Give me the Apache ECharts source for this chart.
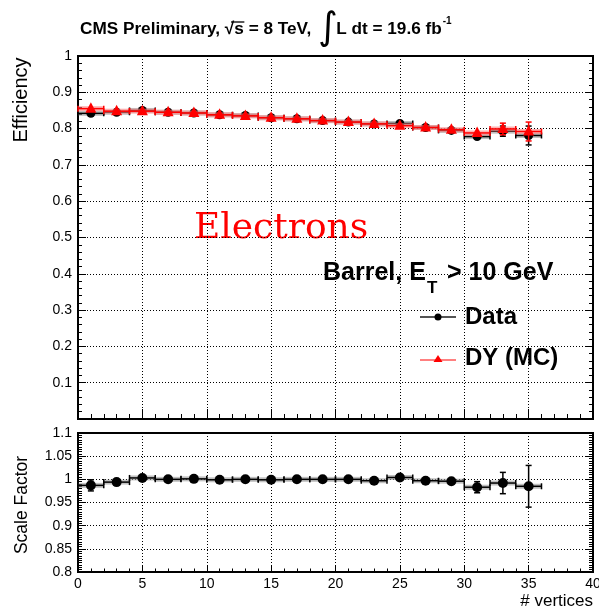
<!DOCTYPE html>
<html><head><meta charset="utf-8">
<script src="https://cdn.jsdelivr.net/npm/echarts@6.0.0/dist/echarts.min.js"></script>
<style>html,body{margin:0;padding:0;background:#fff}#c{width:599px;height:610px}</style>
</head><body><div id="c"></div>
<script>
// ---- data ----
const nVtx = [1,3,5,7,9,11,13,15,17,19,21,23,25,27,29,31,33,35];
const binHalfWidth = 1;
const effData    = [0.842,0.845,0.850,0.845,0.843,0.838,0.836,0.830,0.827,0.822,0.818,0.813,0.814,0.803,0.795,0.778,0.793,0.781];
const effDataErr = [0.003,0.002,0.002,0.002,0.002,0.002,0.002,0.002,0.002,0.002,0.002,0.002,0.002,0.003,0.003,0.005,0.014,0.026];
const effMC      = [0.855,0.848,0.848,0.845,0.843,0.838,0.835,0.830,0.827,0.822,0.818,0.813,0.808,0.803,0.797,0.788,0.799,0.792];
const effMCErr   = [0.004,0.003,0.002,0.002,0.002,0.002,0.002,0.002,0.002,0.002,0.002,0.002,0.002,0.003,0.003,0.005,0.016,0.026];
const scaleFactor    = [0.987,0.994,1.003,1.000,1.001,0.999,1.000,0.999,1.000,1.000,1.000,0.997,1.004,0.997,0.996,0.983,0.992,0.985];
const scaleFactorErr = [0.012,0.004,0.003,0.003,0.003,0.003,0.003,0.003,0.003,0.003,0.003,0.003,0.003,0.003,0.004,0.012,0.023,0.045];
const xTicks = [0,5,10,15,20,25,30,35,40];

// ---- rendering ----
const FONT = '"Liberation Sans", Arial, Helvetica, sans-serif';
function rows(vals, errs){ return nVtx.map((x,i)=>[x, vals[i], errs[i], binHalfWidth]); }

function errRenderer(color, bandColor, marker, msize){
  return function(params, api){
    const x = api.value(0), y = api.value(1), e = api.value(2), hw = api.value(3);
    const c = api.coord([x, y]);
    const pL = api.coord([x-hw, y]), pR = api.coord([x+hw, y]);
    const pT = api.coord([x, y+e]), pB = api.coord([x, y-e]);
    const ch = [];
    ch.push({type:'rect', shape:{x:pL[0], y:c[1]-2.5, width:pR[0]-pL[0], height:5}, style:{fill:bandColor}});
    const ls = {stroke:color, lineWidth:1.5};
    ch.push({type:'line', shape:{x1:pL[0], y1:c[1], x2:pR[0], y2:c[1]}, style:ls});
    ch.push({type:'line', shape:{x1:pL[0], y1:c[1]-3, x2:pL[0], y2:c[1]+3}, style:ls});
    ch.push({type:'line', shape:{x1:pR[0], y1:c[1]-3, x2:pR[0], y2:c[1]+3}, style:ls});
    if (pB[1]-pT[1] > 2*msize) {
      ch.push({type:'line', shape:{x1:c[0], y1:pT[1], x2:c[0], y2:pB[1]}, style:ls});
      ch.push({type:'line', shape:{x1:c[0]-3, y1:pT[1], x2:c[0]+3, y2:pT[1]}, style:ls});
      ch.push({type:'line', shape:{x1:c[0]-3, y1:pB[1], x2:c[0]+3, y2:pB[1]}, style:ls});
    }
    if (marker === 'circle') {
      ch.push({type:'circle', shape:{cx:c[0], cy:c[1], r:msize}, style:{fill:color}});
    } else {
      ch.push({type:'polygon', shape:{points:[[c[0],c[1]-msize-1],[c[0]-msize,c[1]+msize-1.5],[c[0]+msize,c[1]+msize-1.5]]}, style:{fill:color}});
    }
    return {type:'group', children:ch};
  };
}

const dotted = {show:true, lineStyle:{color:'#000', width:1, type:[1,2]}, showMinLine:false, showMaxLine:false};
function xAx(grid, labels, tickLen){
  return {type:'value', gridIndex:grid, min:0, max:40, interval:5,
    axisLine:{show:true, onZero:false, lineStyle:{color:'#000', width:2}},
    axisTick:{show:true, inside:true, length:tickLen, lineStyle:{color:'#000', width:1}},
    minorTick:{show:true, splitNumber:5, length:tickLen/2, lineStyle:{color:'#000', width:1}},
    axisLabel:{show:labels, color:'#000', fontSize:14, fontFamily:FONT, margin:5, formatter: v => String(v)},
    splitLine:dotted};
}
function yAx(grid, min, max, interval, minorSplit, right, fmt){
  return {type:'value', gridIndex:grid, min:min, max:max, interval:interval, position: right?'right':'left',
    axisLine:{show:true, onZero:false, lineStyle:{color:'#000', width:2}},
    axisTick:{show:true, inside:true, length:8, lineStyle:{color:'#000', width:1}},
    minorTick:{show:true, splitNumber:minorSplit, length:4, lineStyle:{color:'#000', width:1}},
    axisLabel:{show:!right, color:'#000', fontSize:14, fontFamily:FONT, margin:6, formatter:fmt},
    splitLine: right ? {show:false} : dotted};
}

// measure title pieces so the pieces line up
const mctx = document.createElement('canvas').getContext('2d');
const TSZ = 17.2;
mctx.font = 'bold ' + TSZ + 'px ' + FONT;
const t1 = 'CMS Preliminary, √', t2 = 's', t3 = ' = 8 TeV,';
const x0 = 80;
const w1 = mctx.measureText(t1).width, w2 = mctx.measureText(t2).width, w3 = mctx.measureText(t3).width;
const sqrtW = mctx.measureText('√').width;
const intX = x0 + w1 + w2 + w3 + 7;
const t4 = 'L dt = 19.6 fb';
const x4 = intX + 18;
const w4 = mctx.measureText(t4).width;

const chart = echarts.init(document.getElementById('c'), null, {renderer:'canvas'});
const titleStyle = {fill:'#000', fontSize:TSZ, fontWeight:'bold', fontFamily:FONT};
chart.setOption({
  backgroundColor:'#fff',
  animation:false,
  grid:[
    {left:78, top:56, width:515, height:363, show:true, borderColor:'#000', borderWidth:2, backgroundColor:'transparent', outerBoundsMode:'none'},
    {left:78, top:433, width:515, height:139, show:true, borderColor:'#000', borderWidth:2, backgroundColor:'transparent', outerBoundsMode:'none'}
  ],
  xAxis:[ xAx(0, false, 10), xAx(1, true, 7) ],
  yAxis:[
    yAx(0, 0, 1, 0.1, 5, false, v => v < 0.05 ? '' : (Math.abs(v-1)<1e-6 ? '1' : v.toFixed(1))),
    yAx(0, 0, 1, 0.1, 5, true),
    yAx(1, 0.8, 1.1, 0.05, 10, false, v => String(parseFloat(v.toFixed(2)))),
    yAx(1, 0.8, 1.1, 0.05, 10, true)
  ],
  series:[
    {type:'custom', name:'Data', xAxisIndex:0, yAxisIndex:0, data:rows(effData, effDataErr),
      renderItem: errRenderer('#000', 'rgba(150,150,150,0.6)', 'circle', 4.5), z:3},
    {type:'custom', name:'DY (MC)', xAxisIndex:0, yAxisIndex:0, data:rows(effMC, effMCErr),
      renderItem: errRenderer('#ff0000', 'rgba(255,130,130,0.6)', 'triangle', 5.5), z:4},
    {type:'custom', name:'Scale Factor', xAxisIndex:1, yAxisIndex:2, data:rows(scaleFactor, scaleFactorErr),
      renderItem: errRenderer('#000', 'rgba(150,150,150,0.6)', 'circle', 5), z:3}
  ],
  graphic:[
    {type:'text', x:x0, y:29, style:Object.assign({text:t1 + t2 + t3, verticalAlign:'middle'}, titleStyle)},
    {type:'line', shape:{x1:x0 + w1 - sqrtW*0.35, y1:22, x2:x0 + w1 + w2 + 0.5, y2:22}, style:{stroke:'#000', lineWidth:1.3}},
    {type:'text', x:intX, y:29, style:{text:'∫', fill:'#000', fontSize:38, fontFamily:'"DejaVu Sans"', verticalAlign:'middle'}},
    {type:'text', x:x4, y:29, style:Object.assign({text:t4, verticalAlign:'middle'}, titleStyle)},
    {type:'text', x:x4 + w4 + 1, y:21, style:{text:'-1', fill:'#000', fontSize:10, fontWeight:'bold', fontFamily:FONT, verticalAlign:'middle'}},
    {type:'text', x:21, y:100, rotation:Math.PI/2, style:{text:'Efficiency', fill:'#000', fontSize:20, fontFamily:FONT, align:'center', verticalAlign:'middle'}},
    {type:'text', x:22, y:505, rotation:Math.PI/2, style:{text:'Scale Factor', fill:'#000', fontSize:17.5, fontFamily:FONT, align:'center', verticalAlign:'middle'}},
    {type:'text', x:593, y:601, style:{text:'# vertices', fill:'#000', fontSize:17, fontFamily:FONT, align:'right', verticalAlign:'middle'}},
    {type:'text', x:194, y:229, style:{text:'Electrons', fill:'#ff0000', fontSize:36, fontFamily:'"DejaVu Serif", "Liberation Serif", serif', align:'left', verticalAlign:'middle'}},
    {type:'text', x:323, y:273, style:{text:'Barrel, E', fill:'#000', fontSize:25, fontWeight:'bold', fontFamily:FONT, align:'left', verticalAlign:'middle'}},
    {type:'text', x:427, y:288, style:{text:'T', fill:'#000', fontSize:17, fontWeight:'bold', fontFamily:FONT, align:'left', verticalAlign:'middle'}},
    {type:'text', x:447, y:273, style:{text:'> 10 GeV', fill:'#000', fontSize:25, fontWeight:'bold', fontFamily:FONT, align:'left', verticalAlign:'middle'}},
    {type:'line', shape:{x1:420, y1:317, x2:456, y2:317}, style:{stroke:'#555', lineWidth:2}},
    {type:'circle', shape:{cx:438, cy:317, r:3.5}, style:{fill:'#000'}},
    {type:'text', x:465, y:317, style:{text:'Data', fill:'#000', fontSize:24, fontWeight:'bold', fontFamily:FONT, align:'left', verticalAlign:'middle'}},
    {type:'line', shape:{x1:420, y1:360, x2:456, y2:360}, style:{stroke:'#ff0000', lineWidth:1}},
    {type:'polygon', shape:{points:[[438,355],[433.5,362],[442.5,362]]}, style:{fill:'#ff0000'}},
    {type:'text', x:465, y:358, style:{text:'DY (MC)', fill:'#000', fontSize:24, fontWeight:'bold', fontFamily:FONT, align:'left', verticalAlign:'middle'}}
  ]
});
</script></body></html>
